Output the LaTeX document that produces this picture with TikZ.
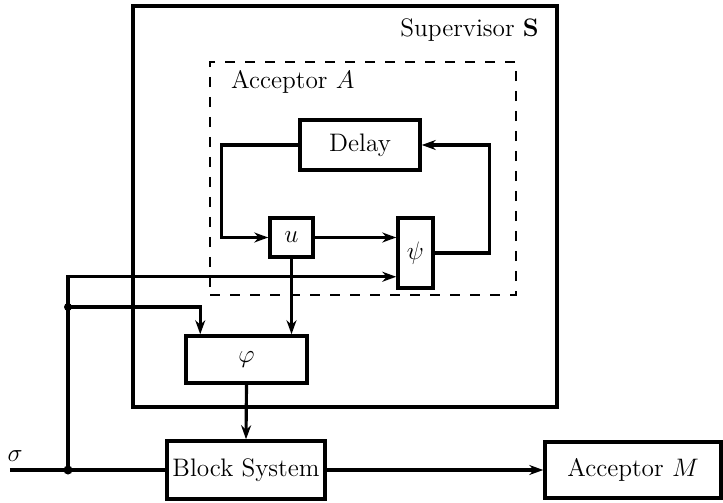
\documentclass[tikz,border=0pt]{standalone}
\usetikzlibrary{arrows.meta}

\begin{document}
\begin{tikzpicture}[
  >={Stealth[length=2.8mm, width=2mm]},
  line/.style={->, line width=1.8pt},
  wire/.style={line width=1.8pt},
  blk/.style={
    draw, line width=2pt, inner sep=0pt, font=\Large
  },
  supBox/.style={
    draw, line width=2.8pt, inner sep=0pt
  },
  accBox/.style={
    draw, line width=1.3pt, dash pattern=on 0.2cm off 0.2cm, inner sep=0pt
  }
]
\useasboundingbox (0,0) rectangle (14.46,10.04);

% --- Caixas externas ---
\node[supBox, minimum width=8.48cm, minimum height=8.02cm] (Sup) at (6.9, 5.91) {};
\node[accBox, minimum width=6.12cm, minimum height=4.66cm] (Acc) at (7.26, 6.47) {};
\node[anchor=east, font=\Large] (SupLbl) at (10.9, 9.44) {Supervisor $\mathbf{S}$};
\node[anchor=west, font=\Large] (AccLbl) at (4.5, 8.4) {Acceptor $A$};

% --- Blocos ---
\node[blk, minimum width=2.4cm, minimum height=1cm] (Delay) at (7.2, 7.14) {Delay};
\node[blk, minimum width=0.86cm, minimum height=0.78cm] (U) at (5.83, 5.29) {$u$};
\node[blk, minimum width=0.7cm, minimum height=1.4cm] (Psi) at (8.31, 4.98) {$\psi$};
\node[blk, minimum width=2.42cm, minimum height=0.94cm] (Phi) at (4.93, 2.85) {$\varphi$};
\node[blk, minimum width=3.16cm, minimum height=1.16cm] (BS) at (4.92, 0.64) {Block System};
\node[blk, minimum width=3.52cm, minimum height=1.12cm] (AM) at (12.66, 0.64) {Acceptor $M$};

% --- Entrada sigma ---
\coordinate (Sig) at (0.2, 0.64);
\coordinate (J1) at (1.36, 3.9);
\coordinate (J2) at (1.36, 0.64);
\node[font=\Large] (SigLbl) at (0.3, 0.92) {$\sigma$};

% --- Conexoes ---
\draw[line] (Delay.west) -- ++(-1.54,0) |- (U.west);
\draw[line] (U) -- (U -| Psi.west);
\draw[line] (Psi.east) -- ++(1.1,0) |- (Delay.east);
\draw[line] (U.south) -- (U.south |- Phi.north);
\draw[line] (J2) |- ([yshift=2.6mm]Psi.south west);
\draw[line] (J1) -| ([xshift=3.2mm]Phi.north west);
\draw[line] (Phi.south) -- (BS.north);
\draw[wire] (Sig) -- (BS.west);
\draw[line] (BS.east) -- (AM.west);

% --- Pontos de juncao ---
\fill (J1) circle (0.08);
\fill (J2) circle (0.09);

\end{tikzpicture}
\end{document}
